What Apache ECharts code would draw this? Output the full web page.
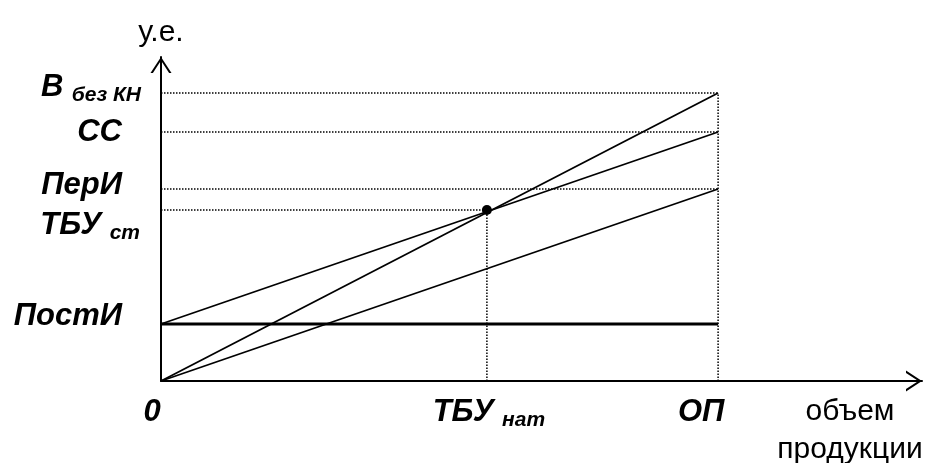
<!DOCTYPE html>
<html>
<head>
<meta charset="utf-8">
<script src="https://cdn.jsdelivr.net/npm/echarts@6/dist/echarts.min.js"></script>
<style>
html,body{margin:0;padding:0;background:#fff;}
#chart{width:926px;height:463px;}
</style>
</head>
<body>
<div id="chart"></div>
<script>
// ---- data ----
const OP = 100;            // объем продукции ОП
const TBU_NAT = 58.5;      // точка безубыточности (натур.)
const REVENUE_AT_OP = 288; // В без КН
const TOTAL_AT_OP = 249;   // СС
const VAR_AT_OP = 192;     // ПерИ
const TBU_ST = 171;        // ТБУ ст
const FIXED = 57;          // ПостИ
const X_MAX = 136.6;
const Y_MAX = 324;

const yLabelMain = ['В', 'СС', 'ПерИ', 'ТБУ', 'ПостИ'];
const yLabelSub  = ['без КН', '', '', 'ст', ''];
const yLabelVals = [REVENUE_AT_OP, TOTAL_AT_OP, VAR_AT_OP, TBU_ST, FIXED];

const xLabelMain = ['0', 'ТБУ', 'ОП'];
const xLabelSub  = ['', 'нат', ''];
const xLabelVals = [0, TBU_NAT, OP];

const revenueLine = [[0, 0], [OP, REVENUE_AT_OP]];
const totalLine   = [[0, FIXED], [OP, TOTAL_AT_OP]];
const varLine     = [[0, 0], [OP, VAR_AT_OP]];
const fixedLine   = [[0, FIXED], [OP, FIXED]];

// ---- styles ----
const yLabelStyle = [
  {distance: 20, offset: [0, -6]},
  {distance: 39, offset: [0, 0]},
  {distance: 39, offset: [0, -4]},
  {distance: 21, offset: [0, 15]},
  {distance: 39, offset: [0, -8]}
];
const xLabelStyle = [
  {offset: [-9, 0]},
  {offset: [2, 0]},
  {offset: [-17, 0]}
];

const FONT = '"Liberation Sans", Arial, sans-serif';
const rich = {
  m: {fontFamily: FONT, fontSize: 31, fontWeight: 'bold', fontStyle: 'italic', color: '#000', lineHeight: 38},
  s: {fontFamily: FONT, fontSize: 21, fontWeight: 'bold', fontStyle: 'italic', color: '#000', lineHeight: 22,
      verticalAlign: 'bottom', padding: [0, 0, 0, 5]}
};
function fmt(main, sub) {
  return sub ? '{m|' + main + '} {s|' + sub + '}' : '{m|' + main + '}';
}

const chevron = 'path://M0,16 L10.5,0 L21,16 L18.6,16 L10.5,3.6 L2.4,16 Z';
const axisLine = {
  show: true,
  lineStyle: {color: '#000', width: 2},
  symbol: ['none', chevron],
  symbolSize: [21, 16],
  symbolOffset: [0, -8]
};

const solid = (w) => ({color: '#000', width: w, type: 'solid'});
const dotted = {color: '#000', width: 1.5, type: [1.5, 1.5]};

function lineSeries(data, style) {
  return {type: 'line', data: data, symbol: 'none', lineStyle: style, silent: true, animation: false, z: 3};
}

const guides = [
  [[0, REVENUE_AT_OP], [OP, REVENUE_AT_OP]],
  [[0, TOTAL_AT_OP], [OP, TOTAL_AT_OP]],
  [[0, VAR_AT_OP], [OP, VAR_AT_OP]],
  [[0, TBU_ST], [TBU_NAT, TBU_ST]],
  [[TBU_NAT, 0], [TBU_NAT, TBU_ST]],
  [[OP, 0], [OP, REVENUE_AT_OP]]
];

const series = [];
guides.forEach(g => series.push(Object.assign(lineSeries(g, dotted), {z: 2})));
series.push(lineSeries(revenueLine, solid(1.8)));
series.push(lineSeries(totalLine, solid(1.8)));
series.push(lineSeries(varLine, solid(1.8)));
series.push(lineSeries(fixedLine, solid(3)));
series.push({
  type: 'scatter', data: [[TBU_NAT, TBU_ST]], symbolSize: 10,
  itemStyle: {color: '#000', opacity: 1}, silent: true, animation: false, z: 5
});
series.push({
  type: 'scatter', symbolSize: 0, silent: true, animation: false,
  itemStyle: {opacity: 1},
  data: yLabelVals.map((v, i) => ({
    value: [0, v],
    label: {show: true, position: 'left', color: '#000', opacity: 1, distance: yLabelStyle[i].distance,
            offset: yLabelStyle[i].offset, formatter: fmt(yLabelMain[i], yLabelSub[i]), rich: rich}
  }))
});
series.push({
  type: 'scatter', symbolSize: 0, silent: true, animation: false,
  itemStyle: {opacity: 1},
  data: xLabelVals.map((v, i) => ({
    value: [v, 0],
    label: {show: true, position: 'bottom', color: '#000', opacity: 1, distance: 12,
            offset: xLabelStyle[i].offset, formatter: fmt(xLabelMain[i], xLabelSub[i]), rich: rich}
  }))
});

const chart = echarts.init(document.getElementById('chart'));
chart.setOption({
  animation: false,
  grid: {left: 161, right: 4, top: 57, bottom: 82, containLabel: false, outerBoundsMode: 'none'},
  xAxis: {
    type: 'value', min: 0, max: X_MAX,
    axisLine: axisLine, axisTick: {show: false}, axisLabel: {show: false}, splitLine: {show: false},
    name: 'объем\nпродукции', nameLocation: 'end', nameGap: -72,
    nameTextStyle: {fontFamily: FONT, fontSize: 30, color: '#000', align: 'center', verticalAlign: 'top',
                    lineHeight: 38, padding: [12, 0, 0, 0]}
  },
  yAxis: {
    type: 'value', min: 0, max: Y_MAX,
    axisLine: axisLine, axisTick: {show: false}, axisLabel: {show: false}, splitLine: {show: false},
    name: 'у.е.', nameLocation: 'end', nameGap: 9,
    nameTextStyle: {fontFamily: FONT, fontSize: 30, color: '#000'}
  },
  series: series
});
</script>
</body>
</html>
